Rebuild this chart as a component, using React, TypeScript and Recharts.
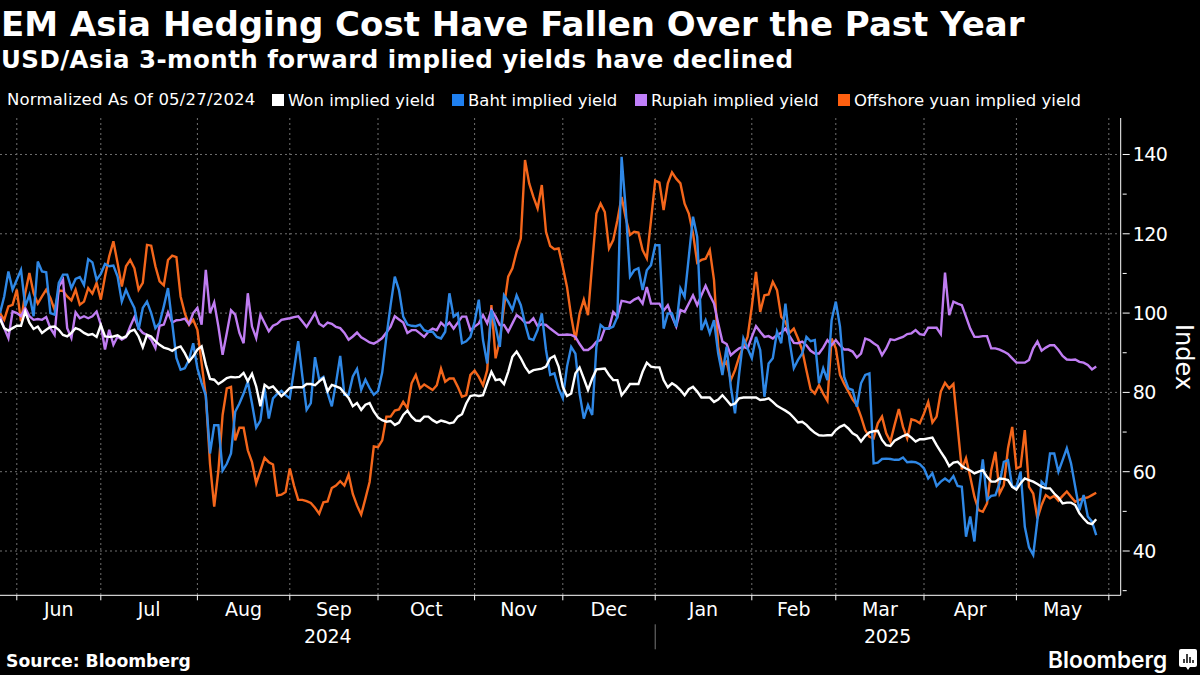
import React from 'react';
import { LineChart, Line, XAxis, YAxis, CartesianGrid } from 'recharts';

// one value per trading day, 05/27/2024 to 05/27/2025
const won = [
  98.5,96.2,95.6,96.2,96.8,96.8,100.4,97.6,96,96.6,
  95,95.8,96.5,96.6,95.8,94.5,94.1,95,96.2,95.8,
  95,94.5,94.7,94,97,94.1,94,94.1,94.4,93.7,
  94.1,95.4,95.8,94.1,91.4,94.5,94.1,92.9,92,91.3,
  91,90.5,91.2,91.6,89.9,87.8,89.1,90.8,91.6,87,
  83.4,83.2,82.1,82.8,83.6,83.9,83.8,83.9,84.9,82.8,
  84.7,81.5,76.5,81.9,81.1,81.5,80.3,79,80,81.1,
  81.3,81.3,81.3,82.1,82.1,81.8,82.8,83.6,80.3,81.9,
  81.5,81.1,79.8,78.6,76.5,77.3,75.6,76.9,77.3,75.2,
  73.7,73,72.6,72.8,71.8,72.4,74.3,75.4,73.9,72.9,
  72.8,73.9,73.9,73,72.4,72.9,72.6,72.2,72.4,73.9,
  74.5,77.2,79.1,79.3,79.1,79.3,82.3,85.2,83.1,83.3,
  82.1,85.2,89,90.3,88.6,86.5,85,85.6,85.8,86,
  86.5,88.6,89.2,86.5,81.4,79.1,79.7,84.8,86.3,83.5,
  80.6,83.5,85.8,85.9,86,84.4,83.1,83.1,79.3,80.6,
  82.1,82.1,82.1,85.2,87.5,86.5,86.3,86.3,83.1,81.3,
  82.3,81.6,80.6,79.3,80.8,81.4,80.2,78.7,78.7,78.7,
  77.6,78.2,79.3,78.1,76.8,77.2,78.5,78.7,78.7,78.7,
  78.7,78.1,78.2,78.5,77.6,76.6,76,75.4,74.7,73.6,
  72.4,72.6,71.8,70.7,69.8,69.2,69.1,69.2,69.2,70.5,
  71.3,71.8,70.9,69.7,69.1,67.6,69,69.9,70.2,70.3,
  68,66.7,66.5,67.8,68.4,69,69.4,68.6,67.6,68.2,
  68.2,68.4,68.6,66.7,65,63.4,61.4,62.3,62.5,61.4,
  60.8,60.3,59.6,60,60.4,58.7,57.5,57.5,58.3,58.2,
  57.9,56.2,55.5,57.1,58.3,57.9,57.5,56.9,56.2,55.8,
  55.8,54.5,53.5,52,52.2,52.2,51.6,49.5,48.2,47.1,
  46.8,48,
];

const baht = [
  100,104.2,110.5,105.9,108.4,110.9,101.7,104.6,99.2,113,
  110.5,110.3,100,99.6,107.6,109.7,109.7,106.3,108.6,109.1,
  107.1,113.6,112.8,108.4,109.9,112.4,111.8,112,109.2,102.9,
  105.9,103.4,101.3,95.8,101.3,102.9,100,96.2,97.5,101.7,
  106.3,97.5,88.7,85.7,86.1,88.2,92.4,86.1,82.4,79.2,
  64.6,71.7,71.7,60.3,62,64.6,75.1,77.2,79.7,82.7,
  77.2,71.1,72.9,81,73.4,78.5,79.6,80.4,79.3,78.5,
  85.7,92.9,84,75.6,77.3,88.9,83.2,83.9,79.8,76.5,
  82.4,89.2,79.4,79.4,84,85.9,80.7,83.2,81.1,79.4,
  80.3,85,94,102,109.2,105.8,99.1,97.1,96.8,96.7,
  97.1,95.7,95.3,95.3,94,93.6,95.3,105,99.1,99.9,
  92.4,92.9,94,97.8,103.4,93.2,87.3,100.8,96.6,91.5,
  104.5,102.9,100.8,104.5,102,97.4,93.6,93.2,95.7,99.9,
  90.7,84.4,84.8,81,78.5,86.5,91.5,89.8,79.7,73.4,
  76.8,74.3,91.5,97,96.1,96.1,96.6,99.1,139.4,126,
  109.2,110.8,111.3,105.8,110.8,112.1,117.1,117.1,96.1,99.9,
  99.9,96.6,106.2,104.1,114.2,124.3,119.2,95.7,98.2,94.9,
  98.2,89.8,84.4,91.5,81.4,74.7,84.8,93.6,91.1,88.6,
  94,90.7,78.9,87.3,88.6,95.3,92.4,102.4,92.8,86.1,
  88.2,89.8,94,92.9,93.2,82.3,86.1,83.1,98.2,102.9,
  96.6,83.9,81,80.6,76.4,82.3,84.4,84.8,62.1,62.3,
  63.2,63.3,63.2,63,63,63.6,62.4,62.5,62.4,61.9,
  60.8,58.3,59.6,56.4,57.5,58.3,57.5,58.9,56.4,56.2,
  43.6,48.7,42.4,54.5,63.1,52.9,53.9,54.1,57.1,62.5,
  62.9,56.2,56.2,60,46.1,40.9,39,47.8,57.5,56.4,
  64.6,64.6,60,62.9,65.9,62.1,56.2,50.3,54.1,48.7,
  47.4,44,
];

const rupiah = [
  99.2,96.2,93.7,100.4,100,99.2,101.3,99.2,98.3,98.5,
  98.3,99,96.2,94.5,106.7,108.4,96.2,93.7,100.2,98.7,
  99.2,98.7,99.2,100.4,97.1,90.8,95.8,92,94.1,93.3,
  93.9,96.6,99,96.2,95,94.5,93.3,91.2,96.8,97.1,
  100.2,97.6,98.2,98.3,98.6,97.2,100,101.3,97.1,110.9,
  100,102.7,96.6,89.5,95,100.7,99.6,95,92.4,105,
  96.6,93.7,99.6,97.5,95.4,96.8,97.3,98.3,98.5,98.7,
  99,99.2,97.9,96.5,98.2,100,97.3,96.6,97.6,97.3,
  96.5,96.2,95,93.3,94.1,95.1,93.9,93.3,92.6,92.3,
  92.9,93.7,95.1,96.6,99.2,98.4,97.6,95,95.7,95.7,
  94.9,94,95.3,96.1,95.7,97.6,96.6,97.6,96.1,97.6,
  99.1,99.1,95.7,96.6,97.4,99.5,97.4,100.8,99.1,97,
  97,95.3,97.4,99.5,98.7,97.6,97.6,98.7,96.7,97.2,
  97,96.1,95.3,94.5,94.5,94.6,94.5,94,92.2,90.7,
  90.7,91.5,92.8,93.2,96.1,96.1,100.3,99.1,103.1,102.9,
  102.6,103.4,103.9,102.4,106.6,102.4,102.4,102.4,100.6,102,
  99.1,96.6,100.8,100.3,102.4,104.5,102,104.5,106.9,104.5,
  102.4,97.4,92.8,92.2,89.4,90.3,91.1,91.5,91.1,94,
  96.7,95.3,94,94.2,93.6,94.5,95,96.1,94.2,92.5,
  92.4,92.8,91.9,90.5,89.8,89.8,91.3,93.2,91.9,93.2,
  91.9,90.8,90.8,90.3,88.8,89.8,93.6,93.2,92.4,91.7,
  89.4,91.1,93.4,93.2,93.6,94,94.7,94.9,95.7,94.7,
  94.5,96.3,96.3,96.3,94.7,110.2,99.5,102.9,102.4,102,
  99.1,96.1,94,94,94.2,94.2,91.1,91.1,90.8,90.3,
  89.7,88.6,87.5,87.5,87.5,88.2,91.1,92.8,90.5,91.3,
  91.9,91.9,90.7,89.2,88.3,88.2,88.3,87.7,87.5,86.9,
  85.8,86.5,
];

const yuan = [
  100,98.3,101.7,102.1,105.9,97.9,105,110.1,105,102.4,
  104.2,105.9,103.8,100.8,105.7,105.6,104.2,103.2,105.9,102.1,
  102.9,106.3,104.9,107.6,103.4,109.2,114.3,118.1,112.6,106.7,
  111.8,113.4,111.3,105.9,107.6,117.2,117,111.8,108,107,
  113.4,114.5,114.1,104.2,100,97.1,98.3,95.8,87.4,79.2,
  62,51.2,60.3,74.3,81,81.4,67.9,71.1,71.1,65.4,
  62.4,57.1,60.3,63.5,62.4,61.8,54,54.2,54.9,60.8,
  56.5,52.9,52.9,52.6,52.1,50.9,49.4,52.3,52.5,55.9,
  56.5,57.6,56.5,59.3,54.4,51.5,49.2,53.2,57.4,66.4,
  66.2,67.9,73.9,73.9,75.4,75.7,77.6,76,82.3,84.4,
  81,82,81.3,80.6,81.8,86,82.7,83.5,83.5,81.4,
  78.9,79.3,84.4,85.5,83.9,81.8,85.6,102,88.6,93.2,
  101.6,109.2,111.3,115.5,118.8,138.6,132.7,129.3,126.4,132.3,
  120.5,116.9,116.1,116.3,111.7,106.6,99.1,93.2,99.9,103.4,
  99.5,112.5,125.1,127.6,125.5,116.3,118.4,123.4,129.3,123.9,
  119.7,120.5,120.3,115.9,113.8,123.4,133.4,132.9,126,132.7,
  135.5,133.9,132.7,127.6,125.1,120.1,112.7,113.4,113.7,115.9,
  108.3,91.5,86.5,87.7,83.1,85.6,89,91.5,94,101.6,
  110.4,100.3,104.5,104.7,107.9,105.8,99.1,97.8,95,96.1,
  93.6,90.7,85.6,80.8,79.7,81.8,79.7,77.9,93.6,91.1,
  84.4,82.1,80.2,78.2,76.8,73.9,70.5,68.8,68.4,72.2,
  73.9,69.7,67.6,71.8,75.8,71.3,68.4,73.2,72.9,72.2,
  74.7,77.6,72.4,73.9,80.2,82.4,81,82.1,71.3,60.6,
  63.4,58.7,53.7,50.3,49.9,52,60.4,65,54.5,56.6,
  65.9,71.3,60.8,61.3,70.5,56.2,54.5,48.2,51.6,54.1,
  53.3,53.9,52.7,53.9,55,53.7,52.4,52.9,53.3,53.5,
  54.1,54.7,
];

const seriesNames = ['Won implied yield', 'Baht implied yield', 'Rupiah implied yield', 'Offshore yuan implied yield'];
const seriesColors = ['#ffffff', '#2f88e6', '#c07df2', '#f4661b'];
const legendColors = ['#ffffff', '#1f80f0', '#c080fa', '#ff6010'];
const legendLeft = [272, 452, 635, 838];

const months = ['Jun', 'Jul', 'Aug', 'Sep', 'Oct', 'Nov', 'Dec', 'Jan', 'Feb', 'Mar', 'Apr', 'May'];
// trading day index where each month starts, last one closes May
const monthStarts = [4, 24, 47, 69, 90, 113, 134, 156, 179, 199, 220, 242, 264];
const monthMids = months.map((_, i) => (monthStarts[i] + monthStarts[i + 1]) / 2);
const yearMids = [78, 211.3];
const years = ['2024', '2025'];
const yearSplit = 156;

const yTicks = [30, 40, 50, 60, 70, 80, 90, 100, 110, 120, 130, 140];
const gridValues = [40, 60, 80, 100, 120, 140];

const table = won.map((v, i) => ({ day: i, won: v, baht: baht[i], rupiah: rupiah[i], yuan: yuan[i] }));

const FONT = '"DejaVu Sans", sans-serif';
const xDomain = [0, 266.83];
const yDomain = [28.83, 149.2];

function YTick({ x, y, payload }: any) {
  const major = payload.value % 20 === 0;
  return (
    <g>
      <line x1={x} x2={x + (major ? 7 : 4)} y1={y} y2={y} stroke="#fff" strokeWidth={1} />
      {major && (
        <text x={x + 10} y={y + 7} fill="#fff" fontSize={19} letterSpacing={-0.5} fontFamily={FONT}>{payload.value}</text>
      )}
    </g>
  );
}

// tick={false} would also drop the grid's vertical lines, so draw nothing instead
const NoTick = () => <g />;

function MonthTick({ x, y, payload }: any) {
  const name = months[monthMids.indexOf(payload.value)];
  return <text x={x} y={y + 14} fill="#fff" fontSize={19} textAnchor="middle" fontFamily={FONT}>{name}</text>;
}

function YearTick({ x, y, payload }: any) {
  if (payload.value === yearSplit) {
    return <line x1={x} x2={x} y1={y - 4} y2={y + 21} stroke="#777" strokeWidth={1} />;
  }
  return <text x={x} y={y + 15} fill="#fff" fontSize={19} letterSpacing={-0.3} textAnchor="middle" fontFamily={FONT}>{years[yearMids.indexOf(payload.value)]}</text>;
}

export default function App() {
  return (
    <div style={{ position: 'absolute', left: 0, top: 0, width: 1200, height: 675, background: '#000', color: '#fff', fontFamily: FONT, overflow: 'hidden' }}>
      <div style={{ position: 'absolute', left: 1, top: 3, fontSize: 34, fontWeight: 700, whiteSpace: 'nowrap', lineHeight: '42px' }}>
        EM Asia Hedging Cost Have Fallen Over the Past Year
      </div>
      <div style={{ position: 'absolute', left: 1, top: 44, fontSize: 24.5, letterSpacing: 0.45, fontWeight: 700, whiteSpace: 'nowrap', lineHeight: '32px' }}>
        USD/Asia 3-month forward implied yields have declined
      </div>

      <div style={{ position: 'absolute', left: 7, top: 90, fontSize: 16.5, letterSpacing: 0.2, lineHeight: '20px', whiteSpace: 'nowrap' }}>
        Normalized As Of 05/27/2024
      </div>
      {seriesNames.map((name, i) => (
        <div key={name} style={{ position: 'absolute', left: legendLeft[i], top: 90, height: 20, display: 'flex', alignItems: 'center', fontSize: 16.5, whiteSpace: 'nowrap' }}>
          <span style={{ width: 12, height: 12, background: legendColors[i], marginRight: 4 }} />
          {name}
        </div>
      ))}

      <div style={{ position: 'absolute', left: 0, top: 0 }}>
        <LineChart width={1200} height={675} data={table} margin={{ top: 118, right: 0, bottom: 0, left: 0 }}>
          <CartesianGrid stroke="#707070" strokeDasharray="2 3" horizontalValues={gridValues} verticalValues={monthStarts} />
          <XAxis dataKey="day" type="number" domain={xDomain} ticks={monthStarts} interval={0} height={5} tick={<NoTick />} tickSize={5} tickMargin={0} stroke="#fff" allowDataOverflow />
          <XAxis xAxisId="months" dataKey="day" type="number" domain={xDomain} ticks={monthMids} interval={0} height={26} axisLine={false} tickLine={false} tickSize={0} tick={<MonthTick />} allowDataOverflow />
          <XAxis xAxisId="years" dataKey="day" type="number" domain={xDomain} ticks={[...yearMids, yearSplit]} interval={0} height={48.7} axisLine={false} tickLine={false} tickSize={0} tick={<YearTick />} allowDataOverflow />
          <YAxis orientation="right" width={79.3} domain={yDomain} ticks={yTicks} interval={0} tickSize={0} tickLine={false} stroke="#fff" tick={<YTick />} allowDataOverflow />
          <Line dataKey="yuan" name={seriesNames[3]} stroke={seriesColors[3]} strokeWidth={2.4} dot={false} isAnimationActive={false} />
          <Line dataKey="rupiah" name={seriesNames[2]} stroke={seriesColors[2]} strokeWidth={2.4} dot={false} isAnimationActive={false} />
          <Line dataKey="baht" name={seriesNames[1]} stroke={seriesColors[1]} strokeWidth={2.4} dot={false} isAnimationActive={false} />
          <Line dataKey="won" name={seriesNames[0]} stroke={seriesColors[0]} strokeWidth={2.4} dot={false} isAnimationActive={false} />
        </LineChart>
      </div>

      <div style={{ position: 'absolute', left: 1183.5, top: 357, transform: 'translate(-50%, -50%) rotate(90deg)', fontSize: 24, lineHeight: '28px' }}>Index</div>
      <div style={{ position: 'absolute', left: 6, top: 651, fontSize: 17.2, fontWeight: 700, lineHeight: '20px' }}>Source: Bloomberg</div>
      <div style={{ position: 'absolute', left: 1048, top: 645, fontSize: 22.7, fontWeight: 600, fontFamily: 'Inter, sans-serif', lineHeight: '30px' }}>Bloomberg</div>
      <svg style={{ position: 'absolute', left: 1179, top: 649 }} width={18} height={21} viewBox="0 0 18 21">
        <path d="M2 0H16A2 2 0 0 1 18 2V16A2 2 0 0 1 16 18H11L9 21L7 18H2A2 2 0 0 1 0 16V2A2 2 0 0 1 2 0Z" fill="#fff" />
        <path d="M5 14V10M8 14V5M11 14V8M14 14V11" stroke="#000" strokeWidth={1.5} />
      </svg>
    </div>
  );
}
